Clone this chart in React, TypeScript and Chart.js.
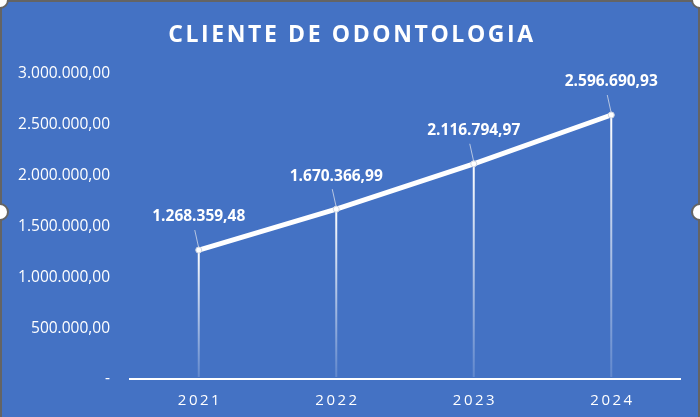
import React, { useEffect, useRef } from "react";
import { Chart, registerables } from "chart.js";

Chart.register(...registerables);

const TITLE = "CLIENTE DE ODONTOLOGIA";
const categories = ["2021", "2022", "2023", "2024"];
const values = [1268359.48, 1670366.99, 2116794.97, 2596690.93];
const yTicks = [0, 500000, 1000000, 1500000, 2000000, 2500000, 3000000];

const BG = "#4472C4";
const FONT = "'Open Sans', 'Noto Sans', sans-serif";

function fmt(v: number): string {
  if (v === 0) return "-";
  const fixed = v.toFixed(2);
  const [intPart, dec] = fixed.split(".");
  const withDots = intPart.replace(/\B(?=(\d{3})+(?!\d))/g, ".");
  return withDots + "," + dec;
}

const decorPlugin = {
  id: "decor",
  beforeDraw(chart: any) {
    const { ctx, width, height } = chart;
    ctx.save();
    ctx.fillStyle = BG;
    ctx.fillRect(0, 0, width, height);
    // title
    ctx.fillStyle = "#ffffff";
    ctx.font = `bold 23px ${FONT}`;
    (ctx as any).letterSpacing = "2.6px";
    ctx.textAlign = "center";
    ctx.textBaseline = "middle";
    ctx.fillText(TITLE, 352, 35);
    ctx.restore();
  },
  beforeDatasetsDraw(chart: any) {
    const { ctx } = chart;
    const meta = chart.getDatasetMeta(0);
    const bottom = chart.scales.y.getPixelForValue(0);
    ctx.save();
    meta.data.forEach((pt: any) => {
      const g = ctx.createLinearGradient(0, pt.y, 0, bottom);
      g.addColorStop(0, "rgba(255,255,255,1)");
      g.addColorStop(1, "rgba(255,255,255,0.15)");
      ctx.strokeStyle = g;
      ctx.lineWidth = 2;
      ctx.beginPath();
      ctx.moveTo(pt.x, pt.y);
      ctx.lineTo(pt.x, bottom - 2);
      ctx.stroke();
    });
    ctx.restore();
  },
  afterDatasetsDraw(chart: any) {
    const { ctx, width } = chart;
    const meta = chart.getDatasetMeta(0);
    const ds = chart.data.datasets[0];
    ctx.save();
    meta.data.forEach((pt: any, i: number) => {
      const ly = pt.y - 33;
      const lx = pt.x;
      // leader line
      ctx.strokeStyle = "rgba(220,225,235,0.75)";
      ctx.lineWidth = 1;
      ctx.beginPath();
      ctx.moveTo(pt.x - 4, ly + 13);
      ctx.lineTo(pt.x, pt.y - 2);
      ctx.stroke();
      ctx.fillStyle = "#ffffff";
      ctx.font = `bold 15.5px ${FONT}`;
      ctx.textAlign = "center";
      ctx.textBaseline = "middle";
      ctx.fillText(fmt(ds.data[i] as number), lx, ly);
    });
    ctx.restore();
    // selection frame
    ctx.save();
    ctx.strokeStyle = "#646464";
    ctx.lineWidth = 2;
    ctx.strokeRect(1, 1, width - 2, chart.height + 10);
    const handles = [
      [0, 0],
      [width, 0],
      [0, 212],
      [width, 212],
    ];
    handles.forEach(([x, y]) => {
      ctx.beginPath();
      ctx.arc(x, y, 8, 0, Math.PI * 2);
      ctx.fillStyle = "#ffffff";
      ctx.fill();
      ctx.strokeStyle = "#646464";
      ctx.lineWidth = 2;
      ctx.stroke();
    });
    ctx.restore();
  },
};

export default function App() {
  const ref = useRef<HTMLCanvasElement | null>(null);
  useEffect(() => {
    if (!ref.current) return;
    const chart = new Chart(ref.current, {
      type: "line",
      data: {
        labels: categories,
        datasets: [
          {
            data: values,
            borderColor: "#ffffff",
            borderWidth: 5,
            pointRadius: 3,
            pointBackgroundColor: "#ffffff",
            pointBorderColor: "#d0d6e2",
            pointBorderWidth: 1,
            tension: 0,
          },
        ],
      },
      options: {
        animation: false,
        responsive: false,
        devicePixelRatio: 1,
        layout: { padding: { top: 74, right: 20, left: 0, bottom: 0 } },
        plugins: {
          legend: { display: false },
          tooltip: { enabled: false },
          title: { display: false },
        },
        scales: {
          x: {
            offset: true,
            grid: { display: false, drawTicks: false },
            border: { color: "#ffffff", width: 2 },
            ticks: {
              color: "#ffffff",
              font: { family: FONT, size: 15 },
              padding: 13,
              callback: (_v: any, i: number) => categories[i].split("").join("\u2009"),
            },
            afterFit: (axis: any) => {
              axis.height = 38;
            },
          },
          y: {
            min: 0,
            max: 3000000,
            afterBuildTicks: (axis: any) => {
              axis.ticks = yTicks.map((v) => ({ value: v }));
            },
            grid: { display: false, drawTicks: false },
            border: { display: false },
            ticks: {
              color: "#ffffff",
              font: { family: FONT, size: 15.5 },
              padding: 20,
              callback: (v: any) => fmt(Number(v)),
            },
            afterFit: (axis: any) => {
              axis.width = 130;
            },
          },
        },
      },
      plugins: [decorPlugin],
    });
    return () => chart.destroy();
  }, []);
  return (
    <div style={{ position: "fixed", left: 0, top: 0, width: 700, height: 417 }}>
      <canvas ref={ref} width={700} height={417} style={{ width: 700, height: 417, display: "block" }} />
    </div>
  );
}
